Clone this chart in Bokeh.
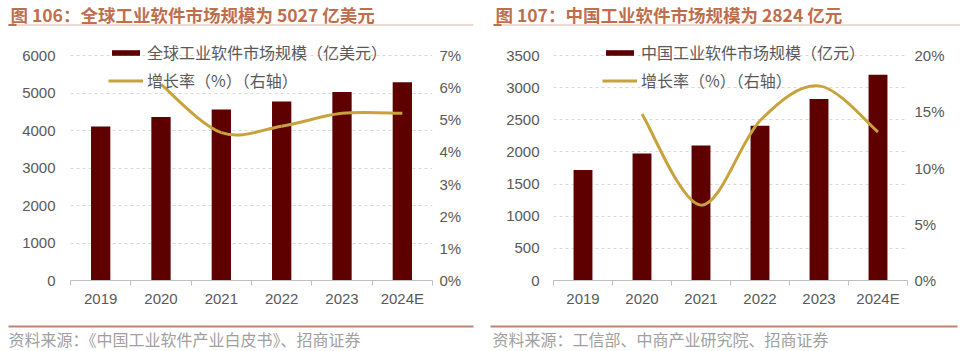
from bokeh.plotting import figure
from bokeh.models import (Range1d, LinearAxis, FixedTicker, NumeralTickFormatter,
                          Legend, LegendItem, Label, BoxAnnotation, ColumnDataSource)
from bokeh.layouts import row, column
from bokeh.embed import file_html
from bokeh.resources import INLINE

# ---------------- data ----------------
years = ["2019", "2020", "2021", "2022", "2023", "2024E"]

global_size = [4107, 4358, 4560, 4773, 5027, 5289]          # 亿美元
global_growth = [None, 6.1, 4.6, 4.8, 5.2, 5.2]            # %
china_size = [1720, 1974, 2100, 2407, 2824, 3200]          # 亿元
china_growth = [None, 14.8, 6.7, 14.2, 17.3, 13.2]         # %

global_left_ticks = [0, 1000, 2000, 3000, 4000, 5000, 6000]
global_right_ticks = [0, 1, 2, 3, 4, 5, 6, 7]
china_left_ticks = [0, 500, 1000, 1500, 2000, 2500, 3000, 3500]
china_right_ticks = [0, 5, 10, 15, 20]

titles = ["图 106：全球工业软件市场规模为 5027 亿美元",
          "图 107：中国工业软件市场规模为 2824 亿元"]
sources = ["资料来源：《中国工业软件产业白皮书》、招商证券",
           "资料来源：工信部、中商产业研究院、招商证券"]
bar_labels = ["全球工业软件市场规模（亿美元）", "中国工业软件市场规模（亿元）"]
line_label = "增长率（%）（右轴）"

BAR = "#5E0000"
GOLD = "#C8A23C"
GRAY = "#595959"
TITLE_C = "#BF6E4C"
CJK = "Noto Sans CJK SC"
NUM = "Liberation Sans"

FRAME_H = 240      # frame height in px
TICK_SPAN = 225    # px between 0 and the top tick
HEADROOM = FRAME_H / TICK_SPAN
W = 960


def smooth(xs, ys):
    n = len(xs)
    d = dict(x0=[], y0=[], x1=[], y1=[], cx0=[], cy0=[], cx1=[], cy1=[])
    for i in range(n - 1):
        p1 = (xs[i], ys[i]); p2 = (xs[i + 1], ys[i + 1])
        p0 = (xs[i - 1], ys[i - 1]) if i > 0 else p1
        p3 = (xs[i + 2], ys[i + 2]) if i + 2 < n else p2
        d["x0"].append(p1[0]); d["y0"].append(p1[1])
        d["x1"].append(p2[0]); d["y1"].append(p2[1])
        d["cx0"].append(p1[0] + (p2[0] - p0[0]) / 6)
        d["cy0"].append(p1[1] + (p2[1] - p0[1]) / 6)
        d["cx1"].append(p2[0] - (p3[0] - p1[0]) / 6)
        d["cy1"].append(p2[1] - (p3[1] - p1[1]) / 6)
    return d


def blank(height):
    f = figure(width=W, height=height, x_range=Range1d(0, W), y_range=Range1d(height, 0),
               toolbar_location=None, output_backend="svg", min_border=0,
               x_axis_location=None, y_axis_location=None)
    f.grid.visible = False
    f.outline_line_color = None
    return f


def header():
    h = blank(40)
    for text, tx, l0, l1 in [(titles[0], 10, 8, 473), (titles[1], 495, 493, 960)]:
        h.add_layout(Label(x=tx, y=14, text=text, text_font=CJK, text_font_size="17.5px",
                           text_font_style="bold", text_color=TITLE_C, text_baseline="middle"))
        h.add_layout(BoxAnnotation(left=l0, right=l1, top=24, bottom=25, fill_color="#D9B7A5",
                                   fill_alpha=1, line_color=None))
        h.add_layout(BoxAnnotation(left=l0, right=l0 + 8, top=23.5, bottom=25.5,
                                   fill_color=TITLE_C, fill_alpha=1, line_color=None))
    return h


def footer():
    f = blank(31)
    for text, tx, l0, l1 in [(sources[0], 8, 8, 473), (sources[1], 492, 490, 957)]:
        f.add_layout(BoxAnnotation(left=l0, right=l1, top=5, bottom=7, fill_color="#B98674",
                                   fill_alpha=1, line_color=None))
        f.add_layout(Label(x=tx, y=18, text=text, text_font=CJK, text_font_size="16px",
                           text_color="#A0A0A0", text_baseline="middle"))
    return f


def style_axis(ax, standoff):
    ax.major_tick_line_color = None
    ax.major_tick_out = 0
    ax.major_tick_in = 0
    ax.minor_tick_line_color = None
    ax.major_label_standoff = standoff
    ax.major_label_text_font = NUM
    ax.major_label_text_font_size = "15px"
    ax.major_label_text_color = GRAY


def chart(sizes, growth, lticks, rticks, bar_label, bl, br, legend_x, lstand, rstand):
    ymax = lticks[-1] * HEADROOM
    p = figure(width=480, height=280, x_range=Range1d(0, len(years)), y_range=Range1d(0, ymax),
               toolbar_location=None, output_backend="svg",
               min_border_left=bl, min_border_right=br, min_border_top=0, min_border_bottom=40)
    p.outline_line_color = None
    p.extra_y_ranges = {"pct": Range1d(0, rticks[-1] / 100 * HEADROOM)}
    xs = [i + 0.5 for i in range(len(years))]
    src = ColumnDataSource(dict(x=xs, top=sizes))
    bars = p.vbar(x="x", top="top", width=0.32, source=src, fill_color=BAR, line_color=None)

    gx = [x for x, g in zip(xs, growth) if g is not None]
    gy = [g / 100 for g in growth if g is not None]
    line = p.bezier(source=ColumnDataSource(smooth(gx, gy)), x0="x0", y0="y0", x1="x1", y1="y1",
                    cx0="cx0", cy0="cy0", cx1="cx1", cy1="cy1",
                    line_color=GOLD, line_width=3, y_range_name="pct")

    xa = p.xaxis[0]
    xa.ticker = FixedTicker(ticks=xs, minor_ticks=list(range(len(years) + 1)))
    xa.major_label_overrides = {x: y for x, y in zip(xs, years)}
    style_axis(xa, 4)
    xa.minor_tick_in = 0
    xa.minor_tick_out = 5
    xa.minor_tick_line_color = "#BFBFBF"
    xa.axis_line_color = "#BFBFBF"

    ya = p.yaxis[0]
    ya.ticker = FixedTicker(ticks=lticks)
    ya.axis_line_color = None
    style_axis(ya, lstand)

    ra = LinearAxis(y_range_name="pct", ticker=FixedTicker(ticks=[t / 100 for t in rticks]),
                    formatter=NumeralTickFormatter(format="0%"))
    ra.axis_line_color = None
    style_axis(ra, rstand)
    p.add_layout(ra, "right")

    p.xgrid.visible = False
    p.ygrid.ticker = FixedTicker(ticks=lticks)
    p.ygrid.grid_line_color = "#D9D9D9"
    p.ygrid.grid_line_dash = "3 3"

    legend = Legend(items=[LegendItem(label=bar_label, renderers=[bars]),
                           LegendItem(label=line_label, renderers=[line])],
                    location=(legend_x, 188), glyph_width=35, glyph_height=7, label_height=20,
                    spacing=4, padding=0, margin=0, label_standoff=4,
                    label_text_font=CJK, label_text_font_size="16px", label_text_color=GRAY,
                    background_fill_alpha=0, border_line_color=None)
    p.add_layout(legend)
    return p


charts = row(chart(global_size, global_growth, global_left_ticks, global_right_ticks,
                   bar_labels[0], 70, 48, 38, 15, 7),
             chart(china_size, china_growth, china_left_ticks, china_right_ticks,
                   bar_labels[1], 73, 53, 49, 14, 7))

layout = column(header(), charts, footer())
open("out.html", "w").write(file_html(layout, INLINE))
